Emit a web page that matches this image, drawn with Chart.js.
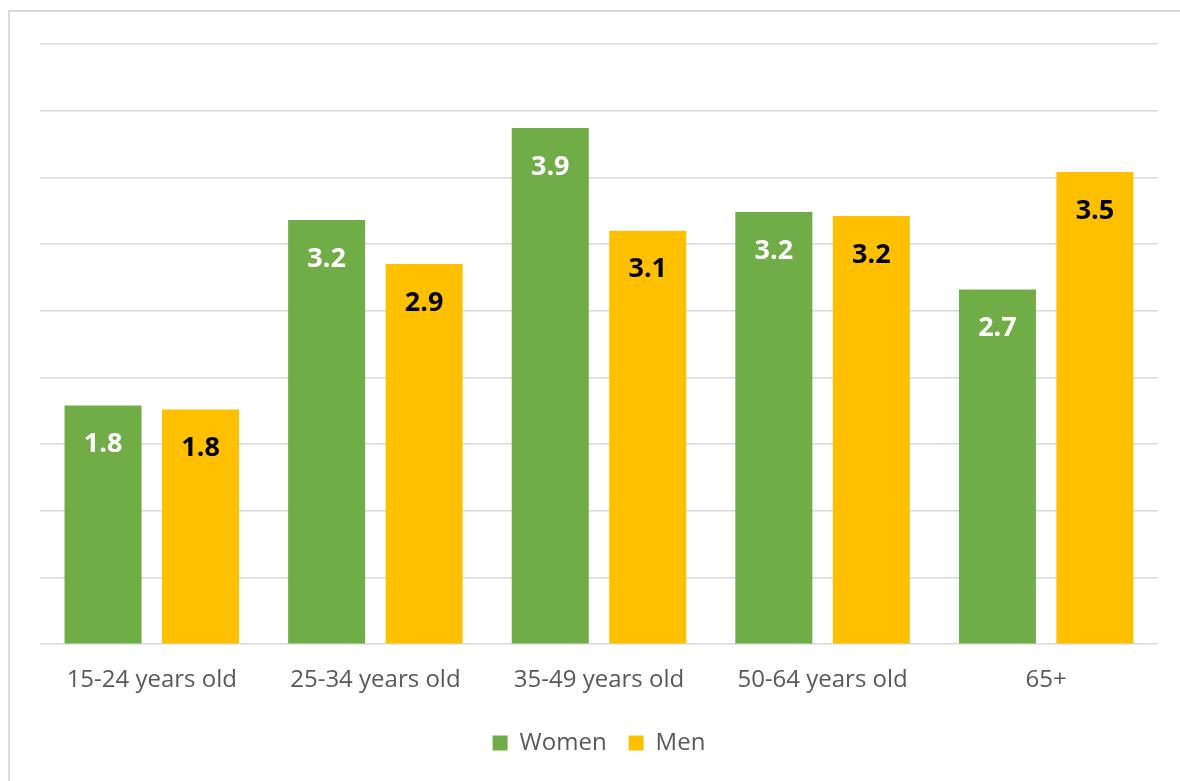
<!DOCTYPE html>
<html>
<head>
<meta charset="utf-8">
<script src="https://cdn.jsdelivr.net/npm/chart.js@4/dist/chart.umd.min.js"></script>
<style>
  html, body { margin: 0; padding: 0; background: #fff; }
  #wrap { position: relative; width: 1180px; height: 781px; }
  #frame { position: absolute; left: 8px; top: 10px; right: 0; bottom: 0;
           border-top: 2px solid #d9d9d9; border-left: 2px solid #d9d9d9; }
  canvas { position: absolute; left: 0; top: 0; }
</style>
</head>
<body>
<div id="wrap">
  <div id="frame"></div>
  <canvas id="c" width="1180" height="781"></canvas>
</div>
<script>
const categories = ['15-24 years old', '25-34 years old', '35-49 years old', '50-64 years old', '65+'];
const women = [1.79, 3.18, 3.87, 3.24, 2.66];
const men = [1.76, 2.85, 3.10, 3.21, 3.54];

const FONT = "'Open Sans', 'Liberation Sans', sans-serif";

// Writes each bar's value just inside its top edge
const valueLabels = {
  id: 'valueLabels',
  afterDatasetsDraw(chart) {
    const ctx = chart.ctx;
    ctx.save();
    ctx.font = 'bold 27px ' + FONT;
    ctx.textAlign = 'center';
    ctx.textBaseline = 'middle';
    chart.data.datasets.forEach((ds, i) => {
      const meta = chart.getDatasetMeta(i);
      ctx.fillStyle = ds.labelColor;
      meta.data.forEach((bar, j) => {
        ctx.fillText(ds.data[j].toFixed(1), bar.x, bar.y + 39);
      });
    });
    ctx.restore();
  }
};

new Chart(document.getElementById('c'), {
  type: 'bar',
  data: {
    labels: categories,
    datasets: [
      { label: 'Women', data: women, backgroundColor: '#70ad47', labelColor: '#ffffff' },
      { label: 'Men', data: men, backgroundColor: '#ffc000', labelColor: '#000000' }
    ]
  },
  options: {
    responsive: false,
    animation: false,
    devicePixelRatio: 1,
    layout: { padding: { left: 40, right: 22, top: 44, bottom: 16 } },
    categoryPercentage: 0.872,
    barPercentage: 0.79,
    plugins: {
      tooltip: { enabled: false },
      legend: {
        position: 'bottom',
        labels: {
          color: '#595959',
          font: { family: FONT, size: 24 },
          boxWidth: 15,
          boxHeight: 15,
          padding: 22
        }
      }
    },
    scales: {
      x: {
        grid: { display: false },
        border: { display: false },
        ticks: { color: '#595959', font: { family: FONT, size: 24 }, padding: 14 }
      },
      y: {
        min: 0,
        max: 4.5,
        ticks: { display: false, stepSize: 0.5 },
        grid: { color: '#d9d9d9', lineWidth: 1.5, drawTicks: false },
        border: { display: false }
      }
    }
  },
  plugins: [valueLabels]
});
</script>
</body>
</html>
